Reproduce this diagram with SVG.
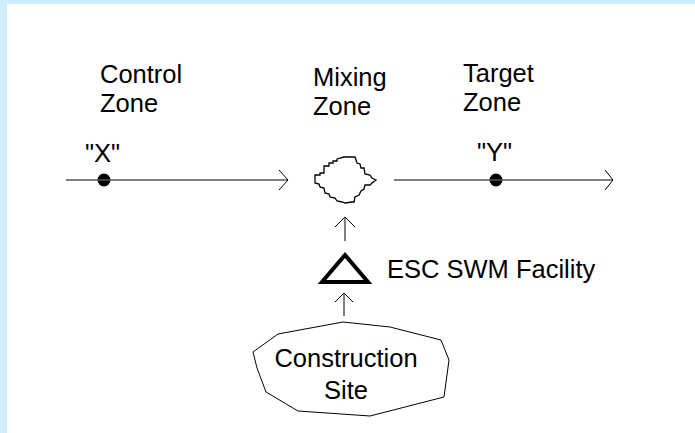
<svg xmlns="http://www.w3.org/2000/svg" width="695" height="433" viewBox="0 0 695 433">
<style>
text{font-family:"Liberation Sans",Arial,sans-serif;font-size:25.5px;fill:#000}
.ln{stroke:#555;stroke-width:1.3;fill:none}
.ah{stroke:#000;stroke-width:1;fill:none}
.dot{fill:#000}
</style>
<rect x="0" y="0" width="695" height="433" fill="#CCEEFF"/>
<rect x="7" y="4" width="688" height="429" fill="#FFFFFF"/>
<g id="control-zone"><text x="100" y="83">Control</text><text x="100" y="112">Zone</text></g>
<g id="mixing-label"><text x="313" y="86">Mixing</text><text x="313" y="115">Zone</text></g>
<g id="target-zone"><text x="463" y="82">Target</text><text x="463" y="111">Zone</text></g>
<g id="point-x"><text x="85" y="162">"X"</text><circle class="dot" cx="104" cy="180" r="6.5"/></g>
<g id="point-y"><text x="477" y="161">"Y"</text><circle class="dot" cx="496" cy="180" r="6.5"/></g>
<g id="mixing-zone"><path d="M315,175 L320,175 L320,173 L324,173 L324,166 L329,166 L329,163 L333,163 L333,161 L337,161 L337,159 L340,158 L344,157 L351,157 L355,157 L357,163 L360,164 L361,168 L364,168 L365,174 L370,175 L372,178 L376,180 L372,183 L370,185 L365,185 L364,189 L361,191 L359,195 L355,197 L354,202 L352,202 L345,203 L342,202 L337,201 L335,198 L330,197 L329,194 L325,193 L324,188 L320,187 L319,184 L315,183 Z" fill="none" stroke="#000" stroke-width="1.3"/></g>
<g id="esc-facility"><path d="M345,255 L368,282 L322,282 Z" fill="none" stroke="#000" stroke-width="4" stroke-linejoin="miter"/><text x="387" y="278">ESC SWM Facility</text></g>
<g id="construction-site"><path d="M343,322 L390,327 L441,340 L449,360 L444,397 L370,416 L298,411 L266,392 L257,368 L253,352 L278,334 Z" fill="none" stroke="#000" stroke-width="1"/><text x="346" y="367" text-anchor="middle">Construction</text><text x="346" y="399" text-anchor="middle">Site</text></g>
<g id="connectors">
<line class="ln" x1="66" y1="180" x2="288" y2="180"/><path class="ah" d="M279,170 L288,180 L279,190"/>
<line class="ln" x1="394" y1="180" x2="613" y2="180"/><path class="ah" d="M605,170 L613,180 L605,190"/>
<line class="ah" x1="345" y1="241" x2="345" y2="217"/><path class="ah" d="M335,227 L345,217 L355,227"/>
<line class="ah" x1="344" y1="316" x2="344" y2="293"/><path class="ah" d="M335,302 L344,293 L353,302"/>
</g>
</svg>
